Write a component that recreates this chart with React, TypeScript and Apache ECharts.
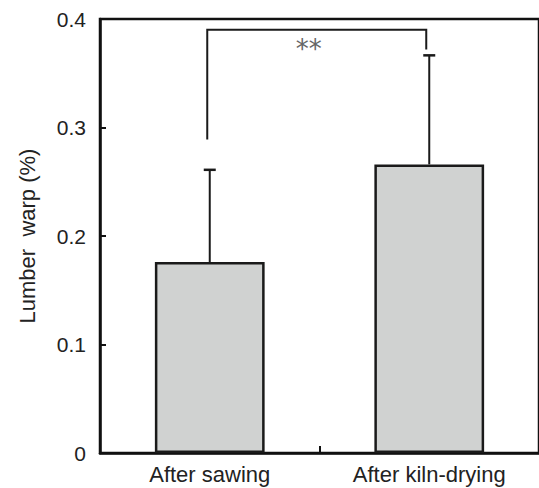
import React, { useEffect, useRef } from "react";
import * as echarts from "echarts";

const categories = ["After sawing", "After kiln-drying"];
const means = [0.176, 0.266];
const errTops = [0.261, 0.3665];
// significance bracket: top level, left end, right end
const bracketTop = [0.39];
const bracketEnds = [0.289, 0.372];
const sigLabel = "**";
const yName = "Lumber  warp (%)";

export default function App() {
  const ref = useRef<HTMLDivElement>(null);
  useEffect(() => {
    const chart = echarts.init(ref.current!, null, { renderer: "svg" });
    const font = "Liberation Sans";
    chart.setOption({
      animation: false,
      grid: {
        left: 100,
        top: 19,
        width: 442,
        height: 434,
        show: true,
        borderColor: "#111",
        borderWidth: 2.5,
        backgroundColor: "transparent",
      },
      xAxis: {
        type: "category",
        data: categories,
        axisLine: { lineStyle: { color: "#111", width: 2.5 } },
        axisTick: { show: true, inside: true, length: 7, lineStyle: { color: "#111", width: 2 } },
        axisLabel: { fontSize: 22, color: "#222", fontFamily: font, margin: 10 },
      },
      yAxis: {
        type: "value",
        min: 0,
        max: 0.4,
        interval: 0.1,
        name: yName,
        nameLocation: "middle",
        nameGap: 62,
        nameTextStyle: { fontSize: 22, color: "#222", fontFamily: font },
        axisLine: { show: true, lineStyle: { color: "#111", width: 2.5 } },
        axisTick: { show: true, inside: true, length: 6, lineStyle: { color: "#111", width: 2 } },
        axisLabel: { fontSize: 21, color: "#222", fontFamily: font, margin: 14 },
        splitLine: { show: false },
      },
      series: [
        {
          type: "bar",
          data: means,
          barWidth: "50%",
          itemStyle: { color: "#d0d2d1", borderColor: "#1a1a1a", borderWidth: 2.5 },
        },
        {
          type: "custom",
          data: means.map((m, i) => [i, m, errTops[i]]),
          renderItem: (params: any, api: any) => {
            const i = api.value(0);
            const p0 = api.coord([i, api.value(1)]);
            const p1 = api.coord([i, api.value(2)]);
            return {
              type: "group",
              children: [
                { type: "line", shape: { x1: p0[0], y1: p0[1], x2: p1[0], y2: p1[1] }, style: { stroke: "#1a1a1a", lineWidth: 2 } },
                { type: "line", shape: { x1: p1[0] - 6, y1: p1[1], x2: p1[0] + 6, y2: p1[1] }, style: { stroke: "#1a1a1a", lineWidth: 2.5 } },
              ],
            };
          },
          z: 5,
        },
        {
          type: "custom",
          data: [[0, 1, bracketTop[0], bracketEnds[0], bracketEnds[1]]],
          renderItem: (params: any, api: any) => {
            const a = api.coord([api.value(0), api.value(2)]);
            const b = api.coord([api.value(1), api.value(2)]);
            const aEnd = api.coord([api.value(0), api.value(3)]);
            const bEnd = api.coord([api.value(1), api.value(4)]);
            const xa = a[0] - 2.5;
            const xb = b[0] - 3;
            return {
              type: "group",
              children: [
                { type: "polyline", shape: { points: [[xa, aEnd[1]], [xa, a[1]], [xb, b[1]], [xb, bEnd[1]]] }, style: { stroke: "#1a1a1a", lineWidth: 2, fill: "none" } },
                { type: "text", style: { text: sigLabel, x: (xa + xb) / 2 - 8, y: a[1] + 19, align: "center", verticalAlign: "middle", fontSize: 26, fill: "#666", fontFamily: "DejaVu Sans" } },
              ],
            };
          },
          z: 5,
        },
      ],
    });
    return () => chart.dispose();
  }, []);
  return <div ref={ref} style={{ width: 539, height: 488, position: "absolute", left: 0, top: 0 }} />;
}
